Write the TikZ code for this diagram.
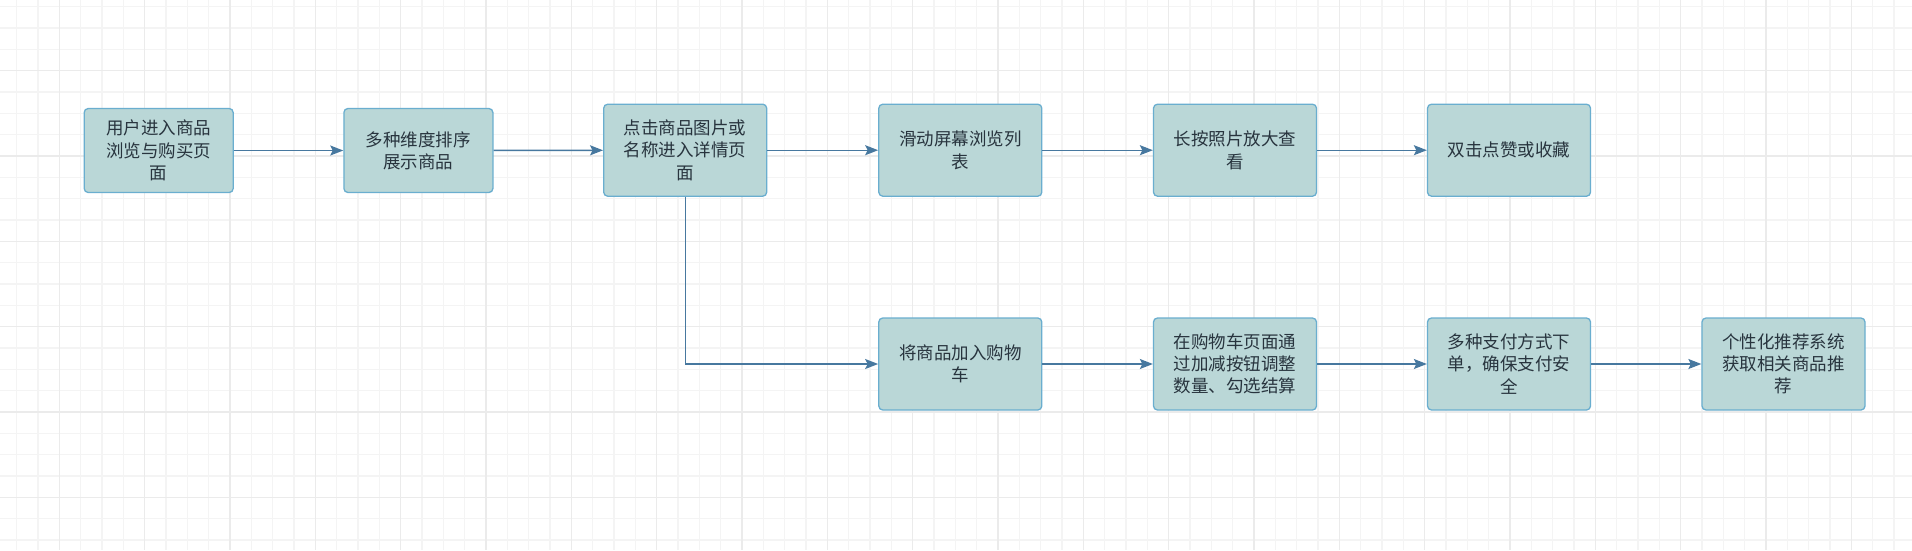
\documentclass[tikz,border=0pt]{standalone}
\usepackage{fontspec}
\setmainfont{Noto Sans CJK SC}
\usetikzlibrary{arrows.meta}
\definecolor{boxfill}{HTML}{BAD7D7}
\definecolor{boxline}{HTML}{6AAECF}
\definecolor{arrowcol}{HTML}{47789F}
\definecolor{textcol}{HTML}{28343E}
\definecolor{gridminor}{HTML}{F4F4F4}
\definecolor{gridmajor}{HTML}{EBEBEB}
\tikzset{
  flowbox/.style={rectangle, rounded corners=4pt, draw=boxline, fill=boxfill, line width=1.3pt,
    align=center, text=textcol, inner sep=0pt,
    font=\fontsize{17.5}{22.3}\selectfont},
  boxA/.style={flowbox, minimum width=149pt, minimum height=84pt},
  boxB/.style={flowbox, minimum width=163pt, minimum height=92pt},
  flowarrow/.style={draw=arrowcol, line width=1.4pt, -{Stealth[length=13pt,width=10pt,inset=2.5pt]}},
  minorline/.style={draw=gridminor, line width=1.3pt},
  majorline/.style={draw=gridmajor, line width=1.4pt}
}
\begin{document}
\begin{tikzpicture}[x=1pt,y=-1pt]
\useasboundingbox (0,0) rectangle (1912,550);
\fill[white] (0,0) rectangle (1912,550);
% grid
\foreach \i in {0,...,89} \draw[minorline] ({16.667+\i*21.333},0) -- ++(0,550);
\foreach \i in {0,...,25} \draw[minorline] (0,{6.667+\i*21.333}) -- ++(1912,0);
\foreach \i in {0,...,21} \draw[majorline] ({59.333+\i*85.333},0) -- ++(0,550);
\foreach \i in {0,...,5} \draw[majorline] (0,{70.667+\i*85.333}) -- ++(1912,0);
% nodes row 1
\node[boxA] (b1) at (158.7,150.5) {用户进入商品\\浏览与购买页\\面};
\node[boxA] (b2) at (418.4,150.5) {多种维度排序\\展示商品};
\node[boxB] (b3) at (685.2,150.2) {点击商品图片或\\名称进入详情页\\面};
\node[boxB] (b4) at (960.3,150.2) {滑动屏幕浏览列\\表};
\node[boxB] (b5) at (1235.0,150.2) {长按照片放大查\\看};
\node[boxB] (b6) at (1509.0,150.2) {双击点赞或收藏};
% nodes row 2
\node[boxB] (b7) at (960.3,364.0) {将商品加入购物\\车};
\node[boxB] (b8) at (1235.0,364.0) {在购物车页面通\\过加减按钮调整\\数量、勾选结算};
\node[boxB] (b9) at (1509.0,364.0) {多种支付方式下\\单，确保支付安\\全};
\node[boxB] (b10) at (1783.5,364.0) {个性化推荐系统\\获取相关商品推\\荐};
% connectors
\draw[flowarrow] (b1) -- (b2);
\draw[flowarrow] (b2) -- (b3);
\draw[flowarrow] (b3) -- (b4);
\draw[flowarrow] (b4) -- (b5);
\draw[flowarrow] (b5) -- (b6);
\draw[flowarrow] (b3.south) |- (b7.west);
\draw[flowarrow] (b7) -- (b8);
\draw[flowarrow] (b8) -- (b9);
\draw[flowarrow] (b9) -- (b10);
\end{tikzpicture}
\end{document}
